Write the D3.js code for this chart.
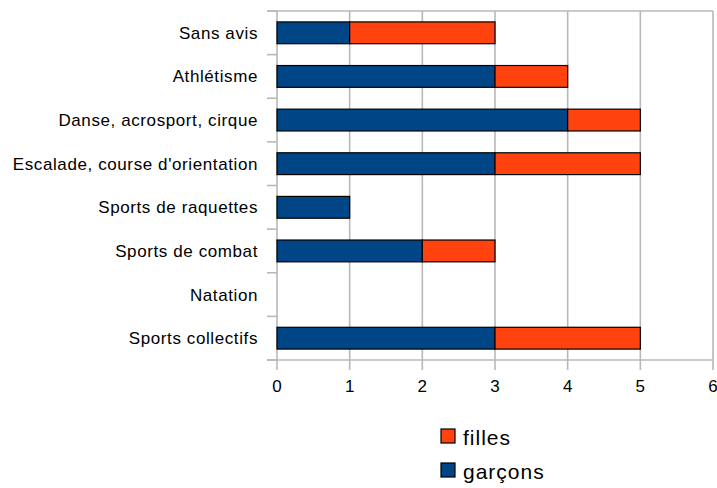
<!DOCTYPE html>
<html><head><meta charset="utf-8">
<script src="https://cdn.jsdelivr.net/npm/d3@7"></script>
<style>
html,body{margin:0;padding:0;background:#fff;}
text{font-family:"Liberation Sans",Arial,sans-serif;fill:#000;}
</style></head>
<body>
<svg id="c" width="717" height="488"></svg>
<script>
const categories = ["Sans avis","Athlétisme","Danse, acrosport, cirque","Escalade, course d'orientation","Sports de raquettes","Sports de combat","Natation","Sports collectifs"];
const garcons = [1,3,4,3,1,2,0,3];
const filles  = [2,1,1,2,0,1,0,2];
const xTicks = [0,1,2,3,4,5,6];
const seriesNames = ["garçons","filles"];
const colors = {"garçons":"#004586","filles":"#ff420e"};

const svg = d3.select("#c");
const pL = 277, pR = 713, pT = 11, pB = 360;
const x = d3.scaleLinear().domain([0,6]).range([pL,pR]);
const y = d3.scaleBand().domain(categories).range([pT,pB]).paddingInner(0.5).paddingOuter(0.25);
const yb = d3.scaleBand().domain(categories).range([pT,pB]);

const grid = "#b8b8b8";
svg.append("g").selectAll("line").data(xTicks).join("line")
  .attr("x1",d=>x(d)).attr("x2",d=>x(d)).attr("y1",pT).attr("y2",pB+10)
  .attr("stroke",grid).attr("stroke-width",1.6);
svg.append("line").attr("x1",pL-10).attr("x2",pR).attr("y1",pT).attr("y2",pT)
  .attr("stroke",grid).attr("stroke-width",1.6);
svg.append("line").attr("x1",pL-10).attr("x2",pR).attr("y1",pB).attr("y2",pB)
  .attr("stroke",grid).attr("stroke-width",1.6);
const bounds = categories.map(c=>yb(c)).concat([pB]);
svg.append("g").selectAll("line").data(bounds).join("line")
  .attr("x1",pL-10).attr("x2",pL).attr("y1",d=>d).attr("y2",d=>d)
  .attr("stroke",grid).attr("stroke-width",1.6);

const stack = d3.stack().keys(seriesNames)(categories.map((c,i)=>({cat:c,"garçons":garcons[i],"filles":filles[i]})));
stack.forEach(s=>{
  svg.append("g").selectAll("rect").data(s.filter(d=>d[1]-d[0]>0)).join("rect")
    .attr("x",d=>x(d[0])).attr("width",d=>x(d[1])-x(d[0]))
    .attr("y",d=>y(d.data.cat)).attr("height",y.bandwidth())
    .attr("fill",colors[s.key]).attr("stroke","#000").attr("stroke-width",1.2);
});

svg.append("g").selectAll("text").data(categories).join("text")
  .attr("x",pL-19).attr("y",d=>y(d)+y.bandwidth()/2).attr("dy","0.35em")
  .attr("text-anchor","end").style("font-size","17px").style("letter-spacing","0.6px").text(d=>d);
svg.append("g").selectAll("text").data(xTicks).join("text")
  .attr("x",d=>x(d)).attr("y",392).attr("text-anchor","middle")
  .style("font-size","17px").text(d=>d);

const legendItems = ["filles","garçons"];
const lg = svg.append("g");
legendItems.forEach((k,i)=>{
  const ly = 429 + i*34;
  lg.append("rect").attr("x",441).attr("y",ly).attr("width",14).attr("height",14)
    .attr("fill",colors[k]).attr("stroke","#000").attr("stroke-width",1.2);
  lg.append("text").attr("x",463).attr("y",ly+16).style("font-size","21px").style("letter-spacing","1px").text(k);
});
</script>
</body></html>
